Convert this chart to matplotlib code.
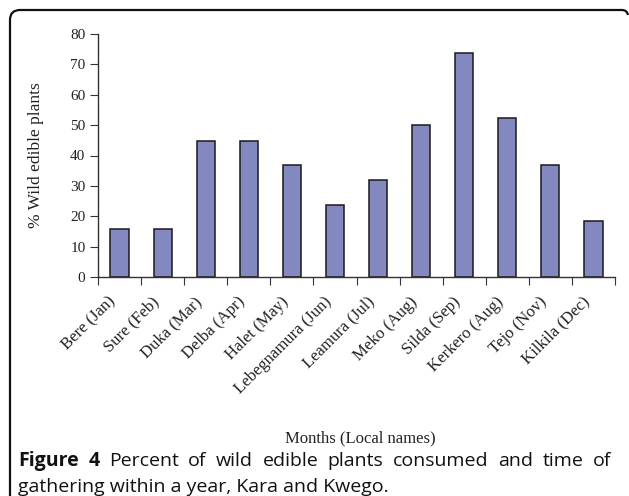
import matplotlib.pyplot as plt
from matplotlib.path import Path
from matplotlib.patches import PathPatch
from matplotlib.transforms import ScaledTranslation
import numpy as np

# months by local name, with the calendar month in brackets
months = ['Bere (Jan)', 'Sure (Feb)', 'Duka (Mar)', 'Delba (Apr)', 'Halet (May)',
          'Lebegnamura (Jun)', 'Leamura (Jul)', 'Meko (Aug)', 'Silda (Sep)',
          'Kerkero (Aug)', 'Tejo (Nov)', 'Kilkila (Dec)']
percent = [15.8, 15.8, 44.8, 44.8, 36.9, 23.7, 31.8, 50.0, 73.7, 52.4, 36.9, 18.6]
yticks = [0, 10, 20, 30, 40, 50, 60, 70, 80]

W, H = 629, 496
fig = plt.figure(figsize=(W / 100, H / 100), dpi=100)

serif = ['Liberation Serif', 'DejaVu Serif']
ax = fig.add_axes([98 / W, 1 - 277 / H, (615 - 98) / W, (277 - 34) / H])

x = np.arange(len(months))
ax.bar(x, percent, width=0.42, color='#8488C0', edgecolor='#1a1a1a', linewidth=1.1)

ax.set_xlim(-0.5, len(months) - 0.5)
ax.set_ylim(0, 80)
ax.set_yticks(yticks)
ax.set_yticklabels([str(v) for v in yticks], fontsize=11, family=serif, color='#222222')

# ticks sit on the category boundaries, labels under the bar centres
ax.set_xticks(np.arange(len(months) + 1) - 0.5)
ax.set_xticklabels([])
ax.set_xticks(x, minor=True)
ax.set_xticklabels(months, minor=True, rotation=45, ha='right', va='center',
                   rotation_mode='anchor', fontsize=12, family=serif, color='#222222')
ax.tick_params(axis='x', which='minor', length=0, pad=16)
ax.tick_params(axis='x', which='major', direction='out', length=6, color='#333333')
ax.tick_params(axis='y', direction='out', length=6, color='#333333', pad=3)
shift = ScaledTranslation(-6 / 100, 0, fig.dpi_scale_trans)
for lab in ax.get_xticklabels(minor=True):
    lab.set_transform(lab.get_transform() + shift)

for side in ['top', 'right']:
    ax.spines[side].set_visible(False)
for side in ['left', 'bottom']:
    ax.spines[side].set_color('#333333')
    ax.spines[side].set_linewidth(1.0)

ax.set_ylabel('% Wild edible plants', fontsize=12.5, family=serif, color='#222222')
ax.yaxis.set_label_coords(44 / W, 1 - 155 / H, transform=fig.transFigure)

fig.text(360 / W, 1 - 438 / H, 'Months (Local names)', ha='center', va='center',
         fontsize=12, family=serif, color='#222222')

# caption under the chart, first line justified to the panel width
cap = ['Open Sans', 'DejaVu Sans']
cap_size = 14
left, right = 18, 611
words = [('Figure', 'bold'), ('4', 'bold'), ('Percent', 'normal'), ('of', 'normal'),
         ('wild', 'normal'), ('edible', 'normal'), ('plants', 'normal'),
         ('consumed', 'normal'), ('and', 'normal'), ('time', 'normal'), ('of', 'normal')]
renderer = fig.canvas.get_renderer()
items = []
for w, weight in words:
    t = fig.text(0, 1 - 461 / H, w, ha='left', va='center', fontsize=cap_size,
                 family=cap, fontweight=weight, color='#111111')
    items.append((t, t.get_window_extent(renderer).width))
gap = (right - left - sum(wd for _, wd in items)) / (len(items) - 1)
pos = left
for t, wd in items:
    t.set_x(pos / W)
    pos += wd + gap
fig.text(left / W, 1 - 487 / H, 'gathering within a year, Kara and Kwego.',
         ha='left', va='center', fontsize=cap_size, family=cap, color='#111111')

# panel frame: left and top edges with rounded corners
r = 10
verts = [(10, H + 2), (10, 10 + r), (10, 10), (10 + r, 10), (622, 10),
         (627, 10), (628, 15)]
codes = [Path.MOVETO, Path.LINETO, Path.CURVE3, Path.CURVE3, Path.LINETO,
         Path.CURVE3, Path.CURVE3]
verts = [(vx / W, 1 - vy / H) for vx, vy in verts]
frame = PathPatch(Path(verts, codes), transform=fig.transFigure, fill=False,
                  edgecolor='#111111', linewidth=1.6)
fig.patches.append(frame)

fig.savefig('out.png', dpi=100)
